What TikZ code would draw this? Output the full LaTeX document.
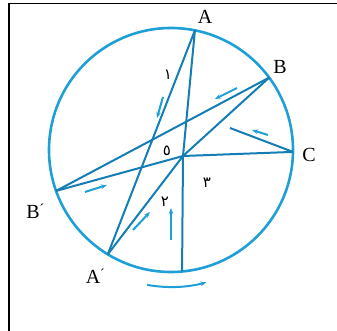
\documentclass[tikz,border=0pt]{standalone}
\usepackage{fontspec}
\setmainfont{Liberation Serif}
\newfontfamily\arabicfont[Script=Arabic]{DejaVu Sans}
\usetikzlibrary{arrows.meta,calc}
\definecolor{cy}{RGB}{30,160,215}
\definecolor{cyd}{RGB}{20,125,180}
\begin{document}
\begin{tikzpicture}[x=1pt,y=1pt,
  chord/.style={draw=cyd,line width=2pt},
  rim/.style={draw=cy,line width=2.6pt},
  mover/.style={draw=cy,line width=2pt,-{Stealth[length=6pt,width=4.5pt]}},
  lbl/.style={font=\fontsize{20}{20}\selectfont,inner sep=0pt},
  dig/.style={font=\arabicfont\fontsize{15}{15}\selectfont,inner sep=0pt}]
\useasboundingbox (0,0) rectangle (337,331);
% frame
\draw[line width=1.8pt] (9,0) -- (9,327.5) -- (337,327.5);
% circle
\coordinate (O) at (171,181);
\draw[rim] (O) circle (122);
% points on circle
\coordinate (A)  at ($(O)+(78.7:122)$);
\coordinate (B)  at ($(O)+(36.4:122)$);
\coordinate (C)  at ($(O)+(-0.9:122)$);
\coordinate (Bp) at ($(O)+(199.6:122)$);
\coordinate (Ap) at ($(O)+(238.8:122)$);
\coordinate (D)  at ($(O)+(275.2:122)$);
\coordinate (P)  at (183,175);
\coordinate (E)  at (230,203);
% chords
\draw[chord] (D) -- (P) -- (A);
\draw[chord] (A) -- (Ap);
\draw[chord] (Ap) -- (P) -- (B);
\draw[chord] (B) -- (Bp);
\draw[chord] (Bp) -- (P) -- (C);
\draw[chord] (C) -- (E);
% direction arrows
\coordinate (a1s) at (163,234); \coordinate (a1e) at (157,213);
\coordinate (a2s) at (237,243); \coordinate (a2e) at (215,232);
\coordinate (a3s) at (85,139);  \coordinate (a3e) at (107,146);
\coordinate (a4s) at (133,101); \coordinate (a4e) at (150,119);
\coordinate (a5s) at (171,91);  \coordinate (a5e) at (171,123);
\coordinate (a6s) at (268,196); \coordinate (a6e) at (252,201);
\draw[mover] (a1s) -- (a1e);
\draw[mover] (a2s) -- (a2e);
\draw[mover] (a3s) -- (a3e);
\draw[mover] (a4s) -- (a4e);
\draw[mover] (a5s) -- (a5e);
\draw[mover] (a6s) -- (a6e);
\draw[mover] ($(O)+(260:137)$) arc[start angle=260,end angle=285,radius=137];
% labels
\node[lbl] (lA)  at (205,314) {A};
\node[lbl] (lB)  at (280,264) {B};
\node[lbl] (lC)  at (309,176) {C};
\node[lbl] (lBp) at (35,120) {B\kern0.5pt\raisebox{2pt}{\fontsize{14}{14}\selectfont\'{}}};
\node[lbl] (lAp) at (95,55) {A\kern0.5pt\raisebox{2pt}{\fontsize{14}{14}\selectfont\'{}}};
\node[dig] (n1) at (168,256) {١};
\node[dig] (n5) at (167,180) {٥};
\node[dig] (n2) at (165,129) {٢};
\node[dig] (n3) at (207,148) {٣};
\end{tikzpicture}
\end{document}
